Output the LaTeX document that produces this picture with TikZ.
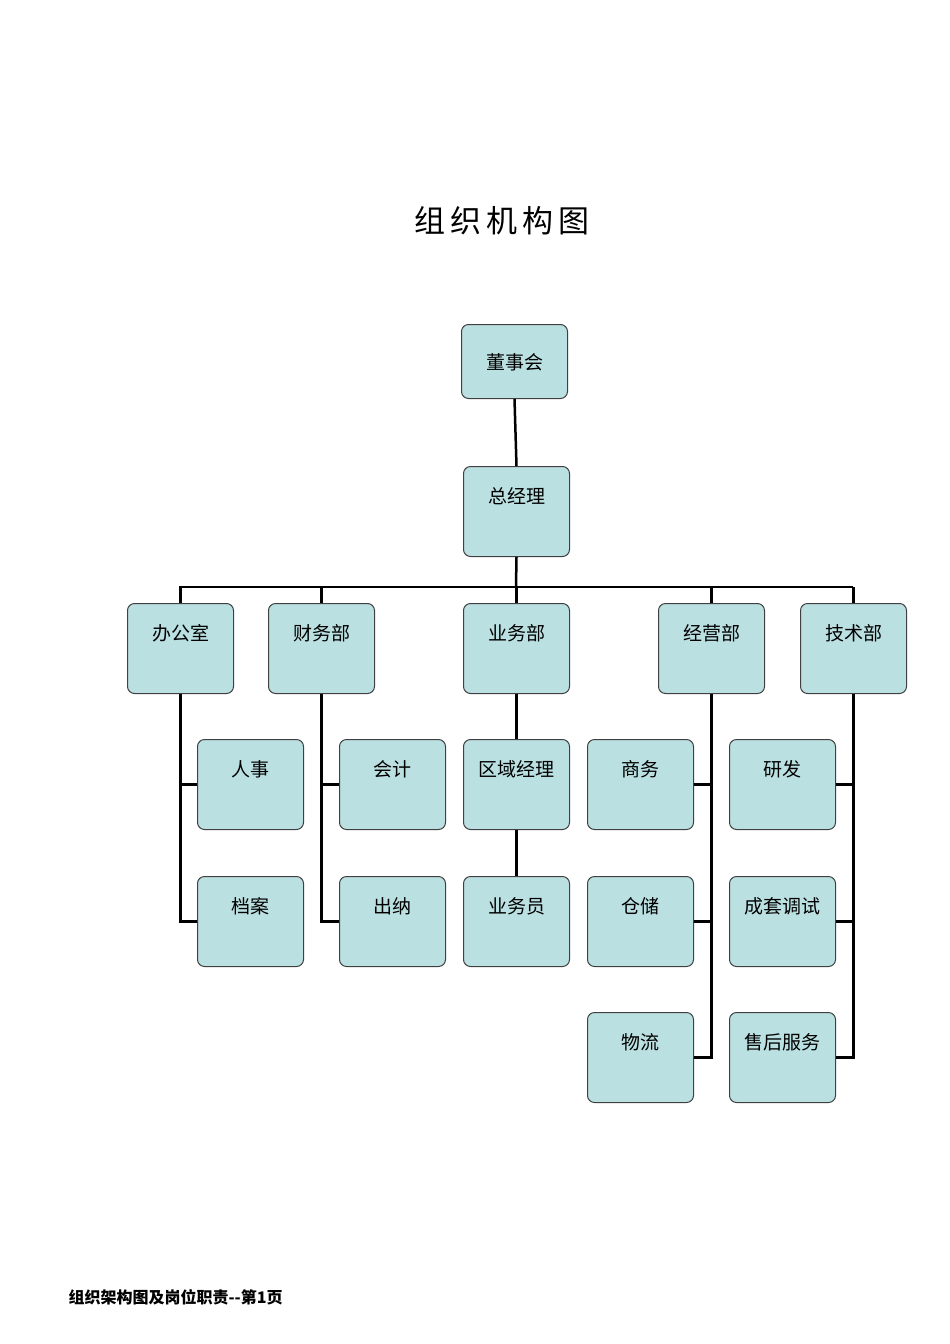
\documentclass[tikz,border=0pt]{standalone}
\usepackage{fontspec}
\newfontfamily\cjk{Noto Sans CJK SC}
\begin{document}
\begin{tikzpicture}[x=1pt,y=-1pt,
 box/.style={draw=black!75,line width=1pt,fill={rgb,255:red,187;green,224;blue,226},rounded corners=7pt,minimum width=106pt,anchor=north west,inner sep=0pt},
 lbl/.style={font=\cjk\fontsize{19}{19}\selectfont,anchor=center},
 ln/.style={line width=2.5pt}]
\useasboundingbox (0,0) rectangle (950,1344);
\newcommand\bx[6]{\node[box,minimum height=#4pt] (#1) at (#2,#3) {}; \node[lbl] at ($(#2+53,#3+#5)$) {#6};}
\node[font=\cjk\fontsize{31}{31}\selectfont] (title) at (502,221) {组\,织\,机\,构\,图};
\node[font=\cjk\bfseries\fontsize{16}{16}\selectfont,anchor=west] (foot) at (65,1297) {组织架构图及岗位职责--第1页};
% boxes
\node[box,minimum height=74pt] (dsh) at (461,324) {};
\node[box,minimum height=90pt] (zjl) at (463,466) {};
\foreach \n/\x/\y in {bgs/127/603,cwb/268/603,ywb/463/603,jyb/658/603,jsb/800/603,
 rs/197/739,kj/339/739,qy/463/739,sw/587/739,yf/729/739,
 da/197/876,cn/339/876,ywy/463/876,cc/587/876,ct/729/876,
 wl/587/1012,sh/729/1012}
 \node[box,minimum height=90pt] (\n) at (\x,\y) {};
\foreach \n/\t in {bgs/办公室,cwb/财务部,ywb/业务部,jyb/经营部,jsb/技术部,rs/人事,kj/会计,qy/区域经理,sw/商务,yf/研发,da/档案,cn/出纳,ywy/业务员,cc/仓储,ct/成套调试,wl/物流,sh/售后服务,zjl/总经理}
 \node[lbl] at ([yshift=-30pt]\n.north) {\t};
\node[lbl] at ([yshift=-38pt]dsh.north) {董事会};
% connectors
\coordinate (b1) at (179,587); \coordinate (b2) at (853,587);
\draw[ln] (dsh.south) -- (zjl.north);
\draw[ln] (zjl.south) -- (516,587);
\draw[ln] (b1) -- (b2);
\foreach \n in {bgs,cwb,ywb,jyb,jsb} \draw[ln] (\n.north |- b1) -- (\n.north);
\draw[ln] (ywb.south) -- (qy.north);
\draw[ln] (qy.south) -- (ywy.north);
\draw[ln] (bgs.south) |- (da.west); \draw[ln] (bgs.south |- rs.west) -- (rs.west);
\draw[ln] (cwb.south) |- (cn.west); \draw[ln] (cwb.south |- kj.west) -- (kj.west);
\draw[ln] (jyb.south) |- (wl.east); \draw[ln] (jyb.south |- sw.east) -- (sw.east); \draw[ln] (jyb.south |- cc.east) -- (cc.east);
\draw[ln] (jsb.south) |- (sh.east); \draw[ln] (jsb.south |- yf.east) -- (yf.east); \draw[ln] (jsb.south |- ct.east) -- (ct.east);
\end{tikzpicture}
\end{document}
